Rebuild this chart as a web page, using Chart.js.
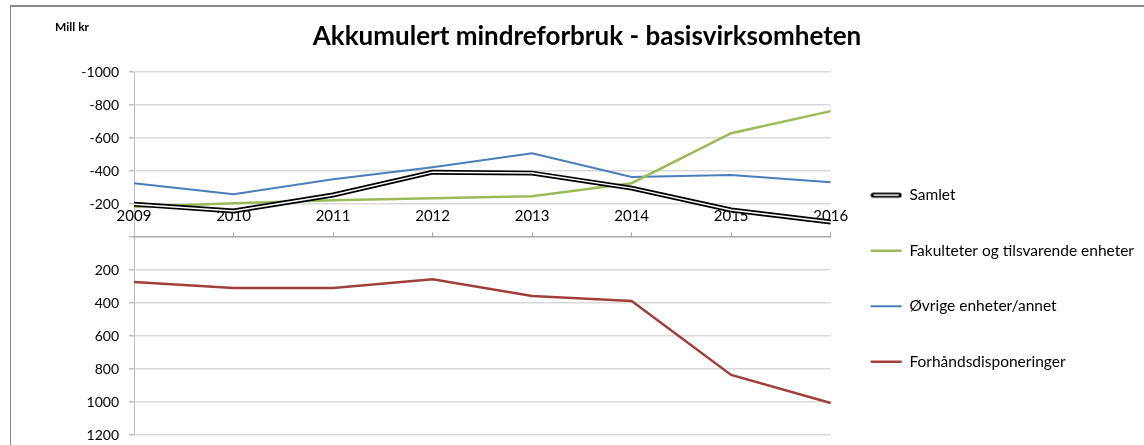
<!DOCTYPE html>
<html>
<head>
<meta charset="utf-8">
<script src="https://cdn.jsdelivr.net/npm/chart.js@4"></script>
<style>
    body { margin: 0; background: #fff; }
    #wrap { position: absolute; left: 0; top: 0; width: 1144px; height: 445px; }
    #frame { position: absolute; left: 10px; top: 5px; width: 1200px; height: 500px;
             border-left: 1px solid #888; border-top: 2px solid #888; pointer-events: none; }
</style>
</head>
<body>
<div id="wrap"><canvas id="chart"></canvas></div>
<div id="frame"></div>
<script>
// Årstall
const years = ['2009', '2010', '2011', '2012', '2013', '2014', '2015', '2016'];

// Serier (mill kr, negativ = mindreforbruk)
const samlet = [-200, -158, -255, -394, -388, -297, -164, -91];
const fakulteter = [-182, -206, -224, -236, -248, -327, -630, -764];
const ovrige = [-327, -260, -351, -424, -509, -364, -376, -333];
const forhand = [272, 309, 309, 255, 357, 388, 836, 1006];

// Akse
const yMin = -1000;
const yMax = 1200;
const yStep = 200;

const seriesNames = ['Samlet', 'Fakulteter og tilsvarende enheter', 'Øvrige enheter/annet', 'Forhåndsdisponeringer'];

// Legendesymbol for dobbel linje (Samlet)
function makeDoubleLineIcon() {
    const c = document.createElement('canvas');
    c.width = 32;
    c.height = 8;
    const g = c.getContext('2d');
    g.lineCap = 'round';
    g.strokeStyle = '#000';
    g.lineWidth = 5;
    g.beginPath(); g.moveTo(3, 4); g.lineTo(29, 4); g.stroke();
    g.strokeStyle = '#fff';
    g.lineWidth = 1.5;
    g.beginPath(); g.moveTo(4, 4); g.lineTo(28, 4); g.stroke();
    return c;
}

const millKrLabel = {
    id: 'millKrLabel',
    afterDraw(chart) {
        const ctx = chart.ctx;
        ctx.save();
        ctx.font = 'bold 12px Lato';
        ctx.fillStyle = '#000';
        ctx.textBaseline = 'middle';
        ctx.fillText('Mill kr', 55, 27);
        ctx.restore();
    }
};

function lineSet(label, data, color, width) {
    return {
        label: label,
        data: data,
        borderColor: color,
        backgroundColor: color,
        borderWidth: width,
        pointRadius: 0,
        pointHoverRadius: 0,
        pointStyle: 'line',
        pointBorderColor: color,
        pointBorderWidth: width,
        tension: 0,
        fill: false
    };
}

const innerSamlet = lineSet('inner', samlet, '#ffffff', 1.5);
const outerSamlet = lineSet(seriesNames[0], samlet, '#000000', 5);
outerSamlet.pointStyle = makeDoubleLineIcon();

new Chart(document.getElementById('chart'), {
    type: 'line',
    data: {
        labels: years,
        datasets: [
            innerSamlet,
            outerSamlet,
            lineSet(seriesNames[1], fakulteter, '#9bbb59', 2.5),
            lineSet(seriesNames[2], ovrige, '#4a7ebb', 2),
            lineSet(seriesNames[3], forhand, '#a0403c', 2.5)
        ]
    },
    options: {
        responsive: true,
        maintainAspectRatio: false,
        animation: false,
        layout: { padding: { left: 30, right: 0, top: 0, bottom: 10 } },
        plugins: {
            title: {
                display: true,
                text: 'Akkumulert mindreforbruk - basisvirksomheten',
                color: '#000',
                font: { family: 'Lato', size: 26, weight: 'bold' },
                padding: { top: 21, bottom: 20 }
            },
            legend: {
                position: 'right',
                align: 'start',
                maxWidth: 400,
                title: { display: true, text: '', padding: { top: 133, bottom: 0 } },
                labels: {
                    usePointStyle: true,
                    pointStyleWidth: 31,
                    padding: 40,
                    color: '#000',
                    font: { family: 'Lato', size: 15.5 },
                    filter: item => item.text !== 'inner'
                }
            },
            tooltip: { enabled: false }
        },
        scales: {
            y: {
                reverse: true,
                min: yMin,
                max: yMax,
                afterFit: scale => {
                    scale.width = 104;
                    scale.paddingTop = 0;
                    scale.paddingBottom = 0;
                },
                ticks: {
                    stepSize: yStep,
                    padding: 10,
                    color: '#000',
                    font: { family: 'Lato', size: 14 },
                    callback: v => (v === 0 ? '' : v)
                },
                grid: {
                    color: ctx => (ctx.tick && ctx.tick.value === 0 ? 'rgba(0,0,0,0)' : '#d9d9d9'),
                    lineWidth: 1.5,
                    tickLength: 5,
                    tickColor: '#bfbfbf'
                },
                border: { color: '#bfbfbf', width: 1 }
            },
            x: {
                type: 'category',
                offset: false,
                position: { y: 0 },
                ticks: {
                    padding: -25,
                    maxRotation: 0,
                    autoSkip: false,
                    color: '#000',
                    font: { family: 'Lato', size: 15 }
                },
                grid: {
                    drawOnChartArea: false,
                    tickLength: -5,
                    color: '#a6a6a6'
                },
                border: { color: '#a6a6a6', width: 1.5 }
            }
        }
    },
    plugins: [millKrLabel]
});
</script>
</body>
</html>
